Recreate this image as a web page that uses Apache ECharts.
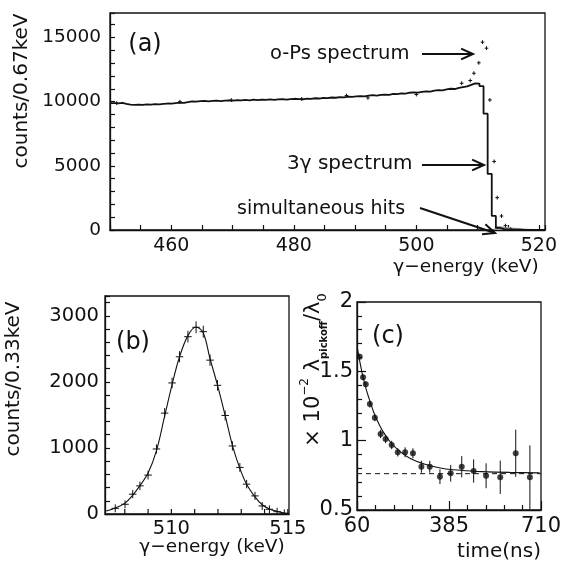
<!DOCTYPE html>
<html>
<head>
<meta charset="utf-8">
<script src="https://cdn.jsdelivr.net/npm/echarts@6/dist/echarts.min.js"></script>
<style>
  html, body { margin: 0; padding: 0; background: #fff; }
  #chart { width: 565px; height: 562px; }
</style>
</head>
<body>
<div id="chart"></div>
<script>
var FONT = 'DejaVu Sans';
var INK = '#111';

// ---- (a) 3γ spectrum histogram, 0.67 keV bins starting at 450 keV
var histStart = 450;
var histBin = 0.67;
var histCounts = [
  9880, 9860, 9900, 9820, 9770, 9750, 9760, 9740, 9780, 9760, 9800, 9790, 9830, 9850, 9840,
  9880, 9920, 9900, 9960, 10010, 9990, 10030, 10060, 10020, 10050, 10080, 10040, 10070, 10100, 10080,
  10110, 10090, 10130, 10100, 10150, 10120, 10160, 10140, 10180, 10130, 10170, 10200, 10160, 10190, 10220,
  10200, 10180, 10230, 10210, 10260, 10240, 10290, 10270, 10320, 10300, 10350, 10330, 10380, 10360, 10400,
  10430, 10410, 10460, 10500, 10470, 10520, 10550, 10530, 10600, 10580, 10640, 10620, 10690, 10720, 10700,
  10760, 10800, 10780, 10850, 10900, 10880, 10950, 11000, 10980, 11060, 11120, 11180, 11300, 11420, 11400,
  11200, 9060, 4370, 1100, 160, 60, 40, 30, 20, 20, 15, 10, 10, 10, 5, 5
];
// o-Ps spectrum points
var opsX = [451.1, 461.4, 469.8, 481.3, 488.6, 492.1, 500.0, 507.4, 508.8, 509.4, 510.2, 510.8, 511.45, 512.0, 512.7, 513.2, 513.9, 514.55, 515.4];
var opsY = [9880, 9990, 10120, 10210, 10470, 10290, 10550, 11430, 11640, 12210, 13020, 14630, 14160, 10130, 5340, 2520, 1090, 340, 60];
// simultaneous hits (shaded)
var simX = [512.6, 513, 514, 515, 516, 517, 518, 519, 520, 520.6];
var simY = [0, 330, 280, 220, 170, 130, 100, 80, 60, 50];

// ---- (b) peak
var bX = [507.59, 508.01, 508.34, 508.65, 509.00, 509.36, 509.71, 510.03, 510.35, 510.71, 511.06, 511.37,
          511.66, 511.98, 512.31, 512.62, 512.94, 513.23, 513.59, 513.90, 514.21, 514.54, 514.85];
var bY = [86, 147, 300, 426, 589, 984, 1527, 1984, 2380, 2684, 2826, 2760,
          2329, 1948, 1492, 1030, 705, 452, 274, 122, 71, 35, 10];
var bErr = [60, 60, 62, 64, 66, 70, 76, 80, 84, 88, 90, 90, 86, 80, 76, 70, 66, 64, 62, 60, 60, 60, 60];
var bFitX = [507.2, 507.59, 508.01, 508.34, 508.65, 509.00, 509.36, 509.71, 510.03, 510.35, 510.71, 511.06, 511.37,
             511.66, 511.98, 512.31, 512.62, 512.94, 513.23, 513.59, 513.90, 514.21, 514.54, 514.85, 515.05];
var bFitY = [45, 90, 165, 285, 430, 620, 960, 1480, 1960, 2380, 2700, 2830, 2740,
             2350, 1950, 1490, 1040, 690, 450, 260, 140, 75, 40, 15, 10];

// ---- (c) pickoff ratio vs time
var cT = [69.6, 81.4, 91, 105.4, 123, 143.3, 161, 182.5, 204, 230, 257.6, 287.5, 317, 353, 391, 430, 472, 516, 566, 620.7, 670.7];
var cV = [1.606, 1.457, 1.406, 1.264, 1.166, 1.048, 1.012, 0.969, 0.916, 0.916, 0.909, 0.812, 0.812, 0.740, 0.765, 0.812, 0.781, 0.747, 0.736, 0.909, 0.736];
var cErr = [0.02, 0.02, 0.02, 0.025, 0.025, 0.03, 0.03, 0.03, 0.03, 0.036, 0.036, 0.043, 0.043, 0.053, 0.06, 0.077, 0.084, 0.09, 0.12, 0.17, 0.23];
var cFitT = [62, 70, 80, 90, 100, 120, 140, 160, 180, 210, 250, 300, 350, 400, 450, 500, 600, 705];
var cFitV = [1.66, 1.57, 1.47, 1.39, 1.32, 1.2, 1.11, 1.04, 0.985, 0.925, 0.87, 0.83, 0.805, 0.79, 0.783, 0.777, 0.771, 0.768];
var cBaseline = 0.762;

// tick labels
var aXLabels = [460, 480, 500, 520];
var aYLabels = [0, 5000, 10000, 15000];
var bXLabels = [510, 515];
var bYLabels = [0, 1000, 2000, 3000];
var cXLabels = [60, 385, 710];
var cYLabels = [0.5, 1, 1.5, 2];
// (b) x tick positions (min is not a whole keV, so drawn as marks)
var bXTicks = [508, 509, 510, 511, 512, 513, 514, 515];

// axis ranges
var aRange = { x: [450, 521], y: [0, 16900] };
var bRange = { x: [507.15, 515.05], y: [0, 3300] };
var cRange = { x: [60, 710], y: [0.5, 2] };

function zip(xs, ys) {
  return xs.map(function (x, i) { return [x, ys[i]]; });
}

function axis(gridIndex, pos, range, labels, fontSize, margin, tick) {
  var a = {
    type: 'value', gridIndex: gridIndex, position: pos, min: range[0], max: range[1],
    splitLine: { show: false },
    axisLine: { show: true, onZero: false, lineStyle: { color: INK, width: 1.3 } },
    axisTick: { show: !!tick, inside: true, length: tick ? tick.len : 5, lineStyle: { color: INK, width: 1.2 } },
    minorTick: { show: !!(tick && tick.split), splitNumber: (tick && tick.split) || 5, length: 5,
                 lineStyle: { color: INK, width: 1.2 } },
    axisLabel: {
      show: true, color: INK, fontSize: fontSize, fontFamily: FONT, margin: margin,
      showMinLabel: true, showMaxLabel: true,
      formatter: function (v) { return labels.indexOf(+v) >= 0 ? String(v) : ''; }
    }
  };
  if (tick) a.interval = tick.interval;
  else a.axisLabel.customValues = labels;
  return a;
}

function errorBars(idx, xs, ys, exs, eys) {
  return {
    type: 'custom', xAxisIndex: idx, yAxisIndex: idx, clip: true, z: 5,
    encode: { x: 0, y: 1 },
    data: xs.map(function (x, i) {
      return [x, ys[i], Array.isArray(exs) ? exs[i] : exs, Array.isArray(eys) ? eys[i] : eys];
    }),
    renderItem: function (params, api) {
      var x = api.value(0), y = api.value(1), ex = api.value(2), ey = api.value(3);
      var l = api.coord([x - ex, y]), r = api.coord([x + ex, y]);
      var t = api.coord([x, y + ey]), b = api.coord([x, y - ey]);
      var kids = [{ type: 'line', shape: { x1: t[0], y1: t[1], x2: b[0], y2: b[1] }, style: { stroke: INK, lineWidth: 1 } }];
      if (ex > 0) {
        kids.push({ type: 'line', shape: { x1: l[0], y1: l[1], x2: r[0], y2: r[1] }, style: { stroke: INK, lineWidth: 1 } });
      }
      return { type: 'group', children: kids };
    }
  };
}

// inward marks on a bottom axis: [value, axis base, 0, length in px]
function tickMarks(idx, values, base, len) {
  return {
    type: 'custom', xAxisIndex: idx, yAxisIndex: idx, clip: true, z: 5,
    encode: { x: 0, y: 1 },
    data: values.map(function (v) { return [v, base, 0, len]; }),
    renderItem: function (params, api) {
      var p = api.coord([api.value(0), api.value(1)]);
      var l = api.value(3);
      return { type: 'group', children: [
        { type: 'line', shape: { x1: p[0], y1: p[1], x2: p[0], y2: p[1] - l }, style: { stroke: INK, lineWidth: 1.2 } }
      ] };
    }
  };
}

function arrow(x1, y1, x2, y2) {
  var ang = Math.atan2(y2 - y1, x2 - x1), h = 13, s = 0.42;
  return [
    { type: 'line', shape: { x1: x1, y1: y1, x2: x2, y2: y2 }, style: { stroke: INK, lineWidth: 2 } },
    { type: 'polyline', shape: { points: [
        [x2 - h * Math.cos(ang - s), y2 - h * Math.sin(ang - s)], [x2, y2],
        [x2 - h * Math.cos(ang + s), y2 - h * Math.sin(ang + s)]] },
      style: { stroke: INK, lineWidth: 2, fill: null } }
  ];
}

function label(text, x, y, size, opts) {
  var el = { type: 'text', x: x, y: y, z: 10,
    style: { text: text, fill: INK, fontSize: size, fontFamily: FONT, align: 'center', verticalAlign: 'middle' } };
  if (opts && opts.rotate) el.rotation = Math.PI / 2;
  if (opts && opts.left) el.style.align = 'left';
  return el;
}

var histData = histCounts.map(function (c, k) { return [+(histStart + histBin * k).toFixed(2), c]; });
histData.push([+(histStart + histBin * histCounts.length).toFixed(2), histCounts[histCounts.length - 1]]);

var gridStyle = { show: true, borderColor: INK, borderWidth: 1.3, backgroundColor: 'transparent' };

var chart = echarts.init(document.getElementById('chart'), null, { renderer: 'canvas' });
chart.setOption({
  animation: false,
  backgroundColor: '#fff',
  grid: [
    Object.assign({ left: 110, top: 13, width: 435, height: 217 }, gridStyle),
    Object.assign({ left: 105, top: 296, width: 184, height: 218 }, gridStyle),
    Object.assign({ left: 357, top: 302, width: 184, height: 208 }, gridStyle)
  ],
  xAxis: [
    axis(0, 'bottom', aRange.x, aXLabels, 19, 7, { interval: 5, len: 5 }),
    axis(1, 'bottom', bRange.x, bXLabels, 19.5, 5, null),
    axis(2, 'bottom', cRange.x, cXLabels, 21, 6, { interval: 325, len: 9, split: 5 })
  ],
  yAxis: [
    axis(0, 'left', aRange.y, aYLabels, 18.5, 9, { interval: 1000, len: 5 }),
    axis(1, 'left', bRange.y, bYLabels, 19.5, 6, { interval: 200, len: 5 }),
    axis(2, 'left', cRange.y, cYLabels, 21, 4, { interval: 0.5, len: 9, split: 5 })
  ],
  series: [
    // (a)
    {
      name: 'simultaneous hits', type: 'line', xAxisIndex: 0, yAxisIndex: 0,
      data: zip(simX, simY), symbol: 'none', z: 1,
      lineStyle: { width: 0 }, areaStyle: { color: '#9c9c9c', opacity: 1 }
    },
    {
      name: '3γ spectrum', type: 'line', step: 'end', xAxisIndex: 0, yAxisIndex: 0,
      data: histData, symbol: 'none', z: 3,
      lineStyle: { color: INK, width: 1.8 }
    },
    errorBars(0, opsX, opsY, 0.3, 150),
    // (b)
    {
      name: 'fit b', type: 'line', xAxisIndex: 1, yAxisIndex: 1, smooth: 0.35,
      data: zip(bFitX, bFitY), symbol: 'none', lineStyle: { color: INK, width: 1.1 }
    },
    errorBars(1, bX, bY, 0.16, bErr),
    tickMarks(1, bXTicks, 0, 5),
    // (c)
    {
      name: 'baseline c', type: 'line', xAxisIndex: 2, yAxisIndex: 2,
      data: [[60, cBaseline], [710, cBaseline]], symbol: 'none',
      lineStyle: { color: INK, width: 1, type: [5, 4] }
    },
    {
      name: 'fit c', type: 'line', xAxisIndex: 2, yAxisIndex: 2, smooth: 0.35,
      data: zip(cFitT, cFitV), symbol: 'none', lineStyle: { color: INK, width: 1.1 }
    },
    errorBars(2, cT, cV, 0, cErr),
    {
      name: 'points c', type: 'scatter', xAxisIndex: 2, yAxisIndex: 2,
      data: zip(cT, cV), symbol: 'circle', symbolSize: 6, z: 6,
      itemStyle: { color: INK }
    }
  ],
  graphic: [
    label('(a)', 145, 45, 24),
    label('(b)', 133, 343, 24),
    label('(c)', 388, 337, 24),
    label('counts/0.67keV', 22, 91, 20, { rotate: true }),
    label('counts/0.33keV', 14, 379, 20, { rotate: true }),
    label('γ−energy (keV)', 466, 267, 18.5),
    label('γ−energy (keV)', 212, 547, 18.5),
    label('time(ns)', 499, 552, 20),
    label('o-Ps spectrum', 270, 54, 19.5, { left: true }),
    label('3γ spectrum', 287, 164, 20, { left: true }),
    label('simultaneous hits', 237, 209, 19, { left: true }),
    {
      type: 'text', x: 314, y: 370, rotation: Math.PI / 2, z: 10,
      style: {
        text: '{m|× 10}{sup|−2}{m| λ}{sub|pickoff}{m|/λ}{sub0|0}',
        align: 'center', verticalAlign: 'middle',
        rich: {
          m: { fontSize: 21, fontFamily: FONT, lineHeight: 30, fill: INK },
          sup: { fontSize: 12, fontFamily: FONT, lineHeight: 14, verticalAlign: 'top', fill: INK },
          sub: { fontSize: 10, fontFamily: FONT, lineHeight: 14, verticalAlign: 'bottom', fill: INK, fontWeight: 'bold' },
          sub0: { fontSize: 13, fontFamily: FONT, lineHeight: 14, verticalAlign: 'bottom', fill: INK }
        }
      }
    }
  ].concat(arrow(422, 54, 473, 54), arrow(422, 165, 484, 165), arrow(420, 208, 495, 233))
});
</script>
</body>
</html>
